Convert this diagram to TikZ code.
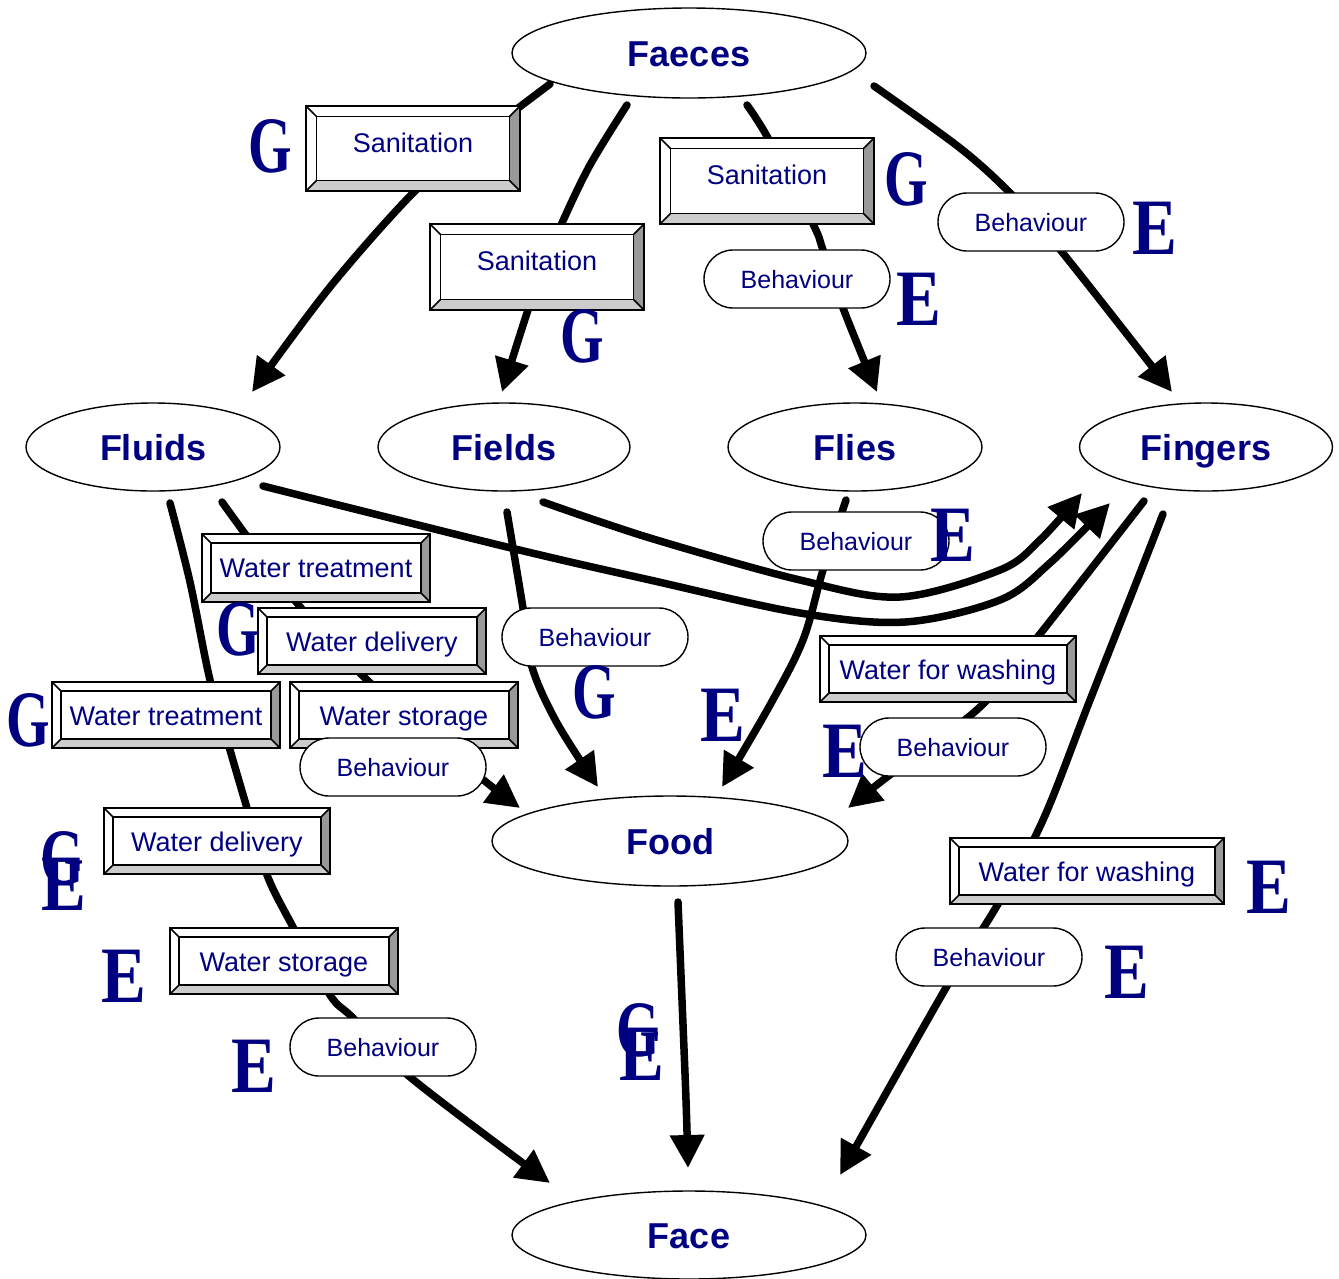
\documentclass[tikz,border=0pt]{standalone}
\usepackage{fontspec}
\setmainfont{Liberation Sans}
\newfontfamily\letterfont{Liberation Serif}
\usepackage{graphicx}
\usetikzlibrary{shapes.geometric,shapes.misc,arrows.meta}
\definecolor{navy}{RGB}{0,0,128}
\definecolor{bevright}{RGB}{153,153,153}
\definecolor{bevbot}{RGB}{204,204,204}
\newcommand{\LetG}{\scalebox{0.7}[1]{G}}
\newcommand{\LetE}{\scalebox{0.84}[1]{E}}
% #1 name, #2 x1, #3 y1, #4 x2, #5 y2, #6 inset, #7 baseline, #8 text
\newcommand{\bevbox}[8]{%
  \path[fill=white] (#2,#3) rectangle (#4,#5);
  \path[fill=bevbot] (#2,#5) -- (#4,#5) -- ({#4-#6},{#5-#6}) -- ({#2+#6},{#5-#6}) -- cycle;
  \path[fill=bevright] (#4,#3) -- (#4,#5) -- ({#4-#6},{#5-#6}) -- ({#4-#6},{#3+#6}) -- cycle;
  \draw[bevline] (#2,#3) rectangle (#4,#5);
  \draw[bevline] ({#2+#6},{#3+#6}) rectangle ({#4-#6},{#5-#6});
  \draw[bevline] (#2,#3) -- ({#2+#6},{#3+#6}) (#4,#3) -- ({#4-#6},{#3+#6})
                 (#2,#5) -- ({#2+#6},{#5-#6}) (#4,#5) -- ({#4-#6},{#5-#6});
  \node[boxtext] (#1) at ({(#2+#4)/2},#7) {#8};%
}
\begin{document}
\begin{tikzpicture}[x=1pt,y=-1pt,
  conn/.style={line width=7.5pt, line cap=round, -{Triangle[length=33pt,width=33pt]}},
  ell/.style={ellipse, draw, line width=1.4pt, fill=white, inner sep=0pt,
    font=\fontsize{36}{36}\selectfont\bfseries, text=navy, text height=26pt, text depth=0pt},
  pill/.style={rounded rectangle, draw, line width=1.4pt, fill=white, inner sep=0pt,
    minimum width=186pt, minimum height=58pt,
    font=\fontsize{25}{25}\selectfont, text=navy, text height=18pt, text depth=0pt},
  bevline/.style={draw=black, line width=1.6pt, line join=miter},
  boxtext/.style={anchor=base, inner sep=0pt, font=\fontsize{27}{27}\selectfont, text=navy},
  letter/.style={anchor=base, inner sep=0pt, font=\letterfont\bfseries\fontsize{80}{80}\selectfont, text=navy}
]
\useasboundingbox (0,0) rectangle (1339,1278);

% ---------- end points of connectors ----------
\coordinate (s1) at (550,84);   \coordinate (t1) at (252,392);
\coordinate (s2) at (627,105);  \coordinate (t2) at (502,392);
\coordinate (s3) at (747,105);  \coordinate (t3) at (877,392);
\coordinate (s4) at (874,86);   \coordinate (t4) at (1172,392);
\coordinate (s5) at (170,503);  \coordinate (t5) at (550,1183);
\coordinate (s6) at (222,502);  \coordinate (t6) at (520,808);
\coordinate (s7) at (263,486);  \coordinate (t7) at (1110,503);
\coordinate (s8) at (543,502);  \coordinate (t8) at (1082,493);
\coordinate (s9) at (507,512);  \coordinate (t9) at (598,787);
\coordinate (s10) at (846,500); \coordinate (t10) at (722,787);
\coordinate (s11) at (1144,501);\coordinate (t11) at (848,808);
\coordinate (s12) at (1163,514);\coordinate (t12) at (840,1175);
\coordinate (s13) at (678,902); \coordinate (t13) at (688,1168);

% ---------- connectors ----------
\draw[conn] plot[smooth,tension=0.55] coordinates {(s1) (470,145) (413,193) (330,287) (t1)};
\draw[conn] plot[smooth,tension=0.55] coordinates {(s2) (590,165) (562,223) (545,265) (528,310) (t2)};
\draw[conn] plot[smooth,tension=0.55] coordinates {(s3) (768,138) (813,224) (823,250) (843,308) (t3)};
\draw[conn] plot[smooth,tension=0.55] coordinates {(s4) (960,148) (1012,195) (1062,252) (t4)};
\draw[conn] plot[smooth,tension=0.55] coordinates {(s5) (190,582) (210,680) (230,750) (247,808) (267,875) (293,927) (330,995) (353,1018) (410,1077) (t5)};
\draw[conn] plot[smooth,tension=0.55] coordinates {(s6) (297,603) (363,676) (430,735) (486,782) (t6)};
\draw[conn] plot[smooth,tension=0.55] coordinates {(s7) (507,547) (650,580) (800,613) (905,622) (1000,600) (1050,563) (t7)};
\draw[conn] plot[smooth,tension=0.55] coordinates {(s8) (650,538) (800,580) (900,597) (1000,570) (1040,540) (t8)};
\draw[conn] plot[smooth,tension=0.55] coordinates {(s9) (523,608) (532,667) (557,723) (t9)};
\draw[conn] plot[smooth,tension=0.55] coordinates {(s10) (823,570) (803,640) (770,705) (t10)};
\draw[conn] plot[smooth,tension=0.55] coordinates {(s11) (1040,634) (980,707) (887,777) (t11)};
\draw[conn] plot[smooth,tension=0.55] coordinates {(s12) (1140,573) (1090,700) (1043,820) (998,904) (947,986) (t12)};
\draw[conn] plot[smooth,tension=0.55] coordinates {(s13) (682,1000) (686,1100) (t13)};

% ---------- ellipses ----------
\node[ell, minimum width=354pt, minimum height=90pt] (faeces) at (689,53) {Faeces};
\node[ell, minimum width=254pt, minimum height=88pt] (fluids) at (153,447) {Fluids};
\node[ell, minimum width=252pt, minimum height=88pt] (fields) at (504,447) {Fields};
\node[ell, minimum width=254pt, minimum height=88pt] (flies) at (855,447) {Flies};
\node[ell, minimum width=253pt, minimum height=88pt] (fingers) at (1206,447) {Fingers};
\node[ell, minimum width=356pt, minimum height=90pt] (food) at (670,841) {Food};
\node[ell, minimum width=354pt, minimum height=88pt] (face) at (689,1235) {Face};

% ---------- bevelled boxes ----------
\bevbox{san1}{306}{106}{520}{191}{10.5}{152}{Sanitation}
\bevbox{san2}{430}{224}{644}{310}{10.5}{270}{Sanitation}
\bevbox{san3}{660}{138}{874}{224}{10.5}{184}{Sanitation}
\bevbox{wt1}{202}{534}{430}{602}{9}{577}{Water treatment}
\bevbox{wd1}{258}{608}{486}{674}{9}{651}{Water delivery}
\bevbox{wt2}{52}{682}{280}{748}{9}{725}{Water treatment}
\bevbox{ws1}{290}{682}{518}{748}{9}{725}{Water storage}
\bevbox{wd2}{104}{808}{330}{874}{9}{851}{Water delivery}
\bevbox{ws2}{170}{928}{398}{994}{9}{971}{Water storage}
\bevbox{ww1}{820}{636}{1076}{702}{9}{679}{Water for washing}
\bevbox{ww2}{950}{838}{1224}{904}{9}{881}{Water for washing}

% ---------- behaviour pills ----------
\node[pill] (b1) at (1031,222) {Behaviour};
\node[pill] (b2) at (797,279) {Behaviour};
\node[pill] (b3) at (856,541) {Behaviour};
\node[pill] (b4) at (595,637) {Behaviour};
\node[pill] (b5) at (393,767) {Behaviour};
\node[pill] (b6) at (953,747) {Behaviour};
\node[pill] (b7) at (989,957) {Behaviour};
\node[pill] (b8) at (383,1047) {Behaviour};

% ---------- G / E letters ----------
\node[letter] (g1) at (270,172) {\LetG};
\node[letter] (g2) at (906,205) {\LetG};
\node[letter] (e1) at (1155,254) {\LetE};
\node[letter] (e2) at (919,325) {\LetE};
\node[letter] (g3) at (582,362) {\LetG};
\node[letter] (e3) at (953,561) {\LetE};
\node[letter] (g4) at (238,655) {\LetG};
\node[letter] (g5) at (28,746) {\LetG};
\node[letter] (g6) at (594,718) {\LetG};
\node[letter] (e4) at (723,741) {\LetE};
\node[letter] (e5) at (845,777) {\LetE};
\node[letter] (g7) at (62,884) {\LetG};
\node[letter] (e6) at (64,910) {\LetE};
\node[letter] (e7) at (124,1002) {\LetE};
\node[letter] (e8) at (254,1092) {\LetE};
\node[letter] (g8) at (638,1056) {\LetG};
\node[letter] (e9) at (642,1080) {\LetE};
\node[letter] (e10) at (1269,913) {\LetE};
\node[letter] (e11) at (1127,998) {\LetE};
\end{tikzpicture}
\end{document}
